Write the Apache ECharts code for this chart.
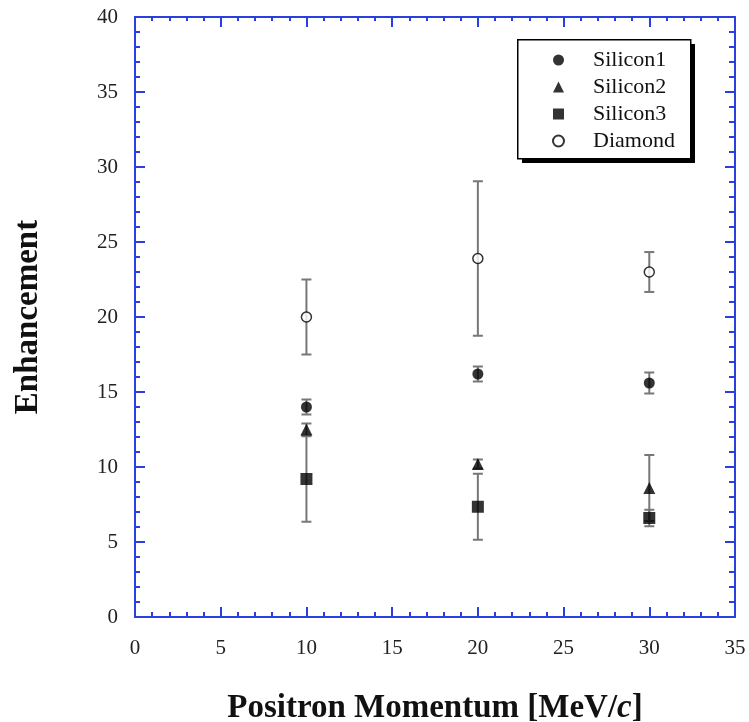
<!DOCTYPE html>
<html>
<head>
<meta charset="utf-8">
<script src="https://cdn.jsdelivr.net/npm/echarts@6/dist/echarts.min.js"></script>
<style>
  html, body { margin: 0; padding: 0; background: #fff; }
  #chart { width: 749px; height: 722px; }
</style>
</head>
<body>
<div id="chart"></div>
<script>
// 数据
const momentum = [10, 20, 30]
const silicon1 = [14.0, 16.2, 15.6]
const silicon1Err = [0.5, 0.5, 0.7]
const silicon2 = [12.5, 10.2, 8.6]
const silicon2Err = [0.4, 0.3, 2.2]
const silicon3 = [9.2, 7.35, 6.6]
const silicon3Err = [2.85, 2.2, 0.55]
const diamond = [20.0, 23.9, 23.0]
const diamondErr = [2.5, 5.15, 1.33]
const xTicks = [0, 5, 10, 15, 20, 25, 30, 35]
const yTicks = [0, 5, 10, 15, 20, 25, 30, 35, 40]

const serif = '"Liberation Serif", "DejaVu Serif", serif'
const blue = '#2a3fe0'

function points (vals) {
  return momentum.map((x, i) => [x, vals[i]])
}
function errData (vals, errs) {
  return momentum.map((x, i) => [x, vals[i] - errs[i], vals[i] + errs[i]])
}

// 误差棒
function renderErr (params, api) {
  const lo = api.coord([api.value(0), api.value(1)])
  const hi = api.coord([api.value(0), api.value(2)])
  const w = 5
  const style = { stroke: '#777', lineWidth: 2 }
  return {
    type: 'group',
    children: [
      { type: 'line', shape: { x1: lo[0], y1: lo[1], x2: hi[0], y2: hi[1] }, style },
      { type: 'line', shape: { x1: hi[0] - w, y1: hi[1], x2: hi[0] + w, y2: hi[1] }, style },
      { type: 'line', shape: { x1: lo[0] - w, y1: lo[1], x2: lo[0] + w, y2: lo[1] }, style }
    ]
  }
}

function errSeries (vals, errs) {
  return {
    type: 'custom',
    renderItem: renderErr,
    data: errData(vals, errs),
    z: 1,
    silent: true
  }
}

function axisBase (extra) {
  return Object.assign({
    type: 'value',
    axisLine: { show: true, onZero: false, lineStyle: { color: blue, width: 2 } },
    axisTick: { show: true, inside: true, length: 10, lineStyle: { color: blue, width: 2 } },
    minorTick: { show: true, splitNumber: 5, length: 5, lineStyle: { color: blue, width: 2 } },
    splitLine: { show: false },
    axisLabel: { show: false }
  }, extra)
}

const labelStyle = { show: true, fontFamily: serif, fontSize: 21, color: '#222' }
const nameStyle = { fontFamily: serif, fontSize: 33, fontWeight: 'bold', color: '#111' }

const chart = echarts.init(document.getElementById('chart'))
const option = {
  backgroundColor: '#fff',
  animation: false,
  grid: { left: 135, top: 17, width: 600, height: 600, outerBoundsMode: 'none' },
  // 图例框和阴影
  graphic: [
    { type: 'rect', left: 522, top: 44, z: 0, shape: { width: 173, height: 119 }, style: { fill: '#000' } },
    { type: 'rect', left: 517, top: 39, z: 0, shape: { width: 173, height: 119 }, style: { fill: '#fff', stroke: '#000', lineWidth: 1.5 } }
  ],
  legend: {
    data: ['Silicon1', 'Silicon2', 'Silicon3', 'Diamond'],
    orient: 'vertical',
    left: 552,
    top: 49,
    padding: 0,
    itemWidth: 11,
    itemHeight: 11,
    itemGap: 5,
    textStyle: { fontFamily: serif, fontSize: 22, color: '#111', lineHeight: 22, padding: [0, 0, 0, 24] }
  },
  xAxis: [
    axisBase({
      position: 'bottom',
      min: 0, max: 35, interval: 5,
      axisLabel: Object.assign({ margin: 21 }, labelStyle),
      name: 'Positron Momentum [MeV/{i|c}]',
      nameLocation: 'middle',
      nameGap: 75,
      nameTextStyle: Object.assign({}, nameStyle, {
        rich: { i: Object.assign({}, nameStyle, { fontStyle: 'italic' }) }
      })
    }),
    axisBase({ position: 'top', min: 0, max: 35, interval: 5, minorTick: { show: true, splitNumber: 5, length: 4, lineStyle: { color: blue, width: 2 } } })
  ],
  yAxis: [
    axisBase({
      position: 'left',
      min: 0, max: 40, interval: 5,
      axisLabel: Object.assign({ margin: 17 }, labelStyle),
      name: 'Enhancement',
      nameLocation: 'middle',
      nameGap: 90,
      nameRotate: 90,
      nameTextStyle: nameStyle
    }),
    axisBase({ position: 'right', min: 0, max: 40, interval: 5, minorTick: { show: true, splitNumber: 5, length: 6, lineStyle: { color: blue, width: 2 } } })
  ],
  series: [
    errSeries(diamond, diamondErr),
    errSeries(silicon1, silicon1Err),
    errSeries(silicon2, silicon2Err),
    errSeries(silicon3, silicon3Err),
    {
      name: 'Silicon1', type: 'scatter', symbol: 'circle', symbolSize: 11,
      itemStyle: { color: '#000' }, data: points(silicon1), z: 3
    },
    {
      name: 'Silicon2', type: 'scatter', symbol: 'triangle', symbolSize: 12,
      itemStyle: { color: '#000' }, data: points(silicon2), z: 3
    },
    {
      name: 'Silicon3', type: 'scatter', symbol: 'rect', symbolSize: 12,
      itemStyle: { color: '#000' }, data: points(silicon3), z: 3
    },
    {
      name: 'Diamond', type: 'scatter', symbol: 'circle', symbolSize: 10,
      itemStyle: { color: '#fff', borderColor: '#000', borderWidth: 1.5 },
      data: points(diamond), z: 3
    }
  ]
}
chart.setOption(option)
</script>
</body>
</html>
